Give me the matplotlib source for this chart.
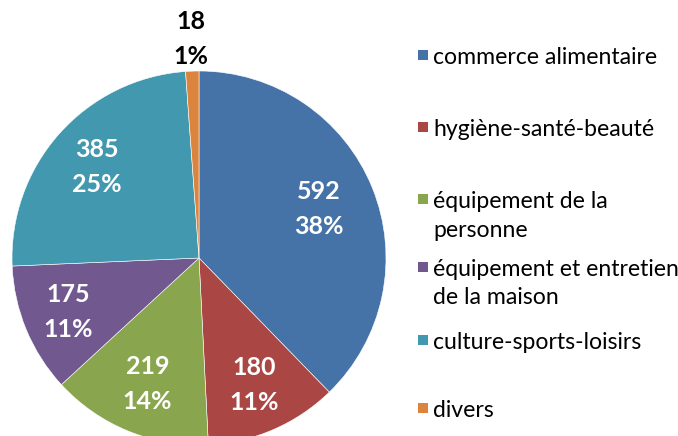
import matplotlib
matplotlib.use("Agg")
import matplotlib.pyplot as plt
from matplotlib.patches import Rectangle
import numpy as np

# data
categories = ["commerce alimentaire", "hygiène-santé-beauté", "équipement de la\npersonne",
              "équipement et entretien\nde la maison", "culture-sports-loisirs", "divers"]
values = [592, 180, 219, 175, 385, 18]
pct_labels = ["38%", "11%", "14%", "11%", "25%", "1%"]
colors = ["#4572A7", "#AA4643", "#89A54E", "#71588F", "#4198AF", "#DB843D"]
# how far out each data label sits (fraction of radius)
label_dist = [0.69, 0.74, 0.73, 0.76, 0.73, 1.17]

plt.rcParams["font.family"] = ["Lato", "DejaVu Sans"]

W, H = 678, 436
fig = plt.figure(figsize=(W / 100, H / 100), dpi=100)

# pie placement (pixels)
cx, cy, r = 199, 258, 187
ax = fig.add_axes([(cx - r) / W, (H - cy - r) / H, 2 * r / W, 2 * r / H])
wedges, _ = ax.pie(values, colors=colors, startangle=90, counterclock=False,
                   radius=1.0, wedgeprops=dict(edgecolor="white", linewidth=0.4))
ax.set_xlim(-1, 1)
ax.set_ylim(-1, 1)
ax.set_aspect("equal")
ax.axis("off")

for i, w in enumerate(wedges):
    ang = np.deg2rad((w.theta1 + w.theta2) / 2)
    d = label_dist[i]
    x, y = d * np.cos(ang), d * np.sin(ang)
    col = "black" if d > 1 else "white"
    for txt, off in [(str(values[i]), 12.6), (pct_labels[i], -12.6)]:
        ax.annotate(txt, (x, y), xytext=(0, off), textcoords="offset points",
                    ha="center", va="center", fontsize=18, fontweight="bold",
                    color=col, annotation_clip=False)

# legend
leg_y = [55, 127, 199, 267, 340, 408]
for lab, col, y in zip(categories, colors, leg_y):
    fig.patches.append(Rectangle((418 / W, (H - y - 5) / H), 10 / W, 10 / H,
                                 transform=fig.transFigure, facecolor=col, edgecolor="none"))
    for k, line in enumerate(lab.split("\n")):
        fig.text(433 / W, (H - y - 29 * k) / H, line, ha="left", va="center_baseline",
                 fontsize=16.6, color="black")

fig.savefig("out.png", dpi=100)
